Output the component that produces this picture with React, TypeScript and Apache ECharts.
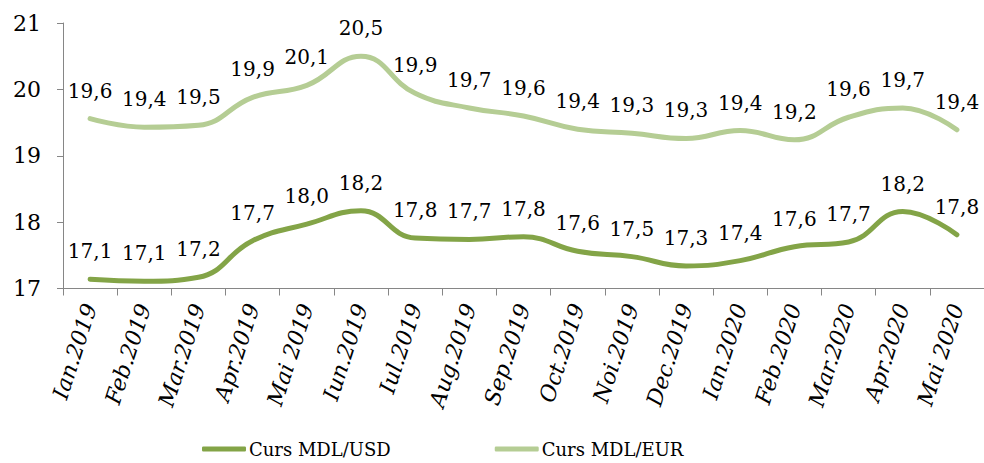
import React, { useEffect, useRef } from "react";
import * as echarts from "echarts";

const categories = [
  "Ian.2019", "Feb.2019", "Mar.2019", "Apr.2019", "Mai 2019", "Iun.2019", "Iul.2019",
  "Aug.2019", "Sep.2019", "Oct.2019", "Noi.2019", "Dec.2019", "Ian.2020", "Feb.2020",
  "Mar.2020", "Apr.2020", "Mai 2020",
];
const usdValues = [
  17.14, 17.11, 17.17, 17.72, 17.97, 18.17, 17.76, 17.74, 17.78, 17.56, 17.48, 17.34,
  17.42, 17.63, 17.7, 18.16, 17.81,
];
const eurValues = [
  19.56, 19.43, 19.46, 19.88, 20.06, 20.5, 19.94, 19.72, 19.6, 19.4, 19.34, 19.26,
  19.38, 19.24, 19.58, 19.72, 19.39,
];
const seriesNames = ["Curs MDL/USD", "Curs MDL/EUR"];

const SERIF = "'DejaVu Serif', serif";

export default function App() {
  const ref = useRef<HTMLDivElement>(null);
  useEffect(() => {
    if (!ref.current) return;
    const chart = echarts.init(ref.current, undefined, { renderer: "svg" });
    const fmt = (p: any) => Number(p.value).toFixed(1).replace(".", ",");
    const mkSeries = (name: string, data: number[], color: string) => ({
      name,
      type: "line",
      data,
      smooth: 0.45,
      symbol: "circle",
      symbolSize: 0,
      showSymbol: true,
      lineStyle: { color, width: 5, cap: "round" },
      itemStyle: { color },
      label: {
        show: true,
        position: "top",
        distance: 18,
        formatter: fmt,
        fontFamily: SERIF,
        fontSize: 20,
        color: "#000",
      },
    });
    chart.setOption({
      animation: false,
      backgroundColor: "#fff",
      grid: { left: 63, top: 23, width: 931, height: 265.5 },
      legend: {
        left: 197,
        top: 435,
        itemWidth: 44,
        itemHeight: 5,
        itemGap: 104,
        icon: "roundRect",
        textStyle: { fontFamily: SERIF, fontSize: 18, color: "#000", padding: [0, 0, 0, -2] },
        data: seriesNames,
      },
      xAxis: {
        type: "category",
        data: categories,
        boundaryGap: true,
        axisLine: { lineStyle: { color: "#868686", width: 1 } },
        axisTick: { show: true, length: 7, lineStyle: { color: "#868686" } },
        axisLabel: {
          rotate: 72,
          margin: 16,
          interval: 0,
          fontFamily: SERIF,
          fontStyle: "italic",
          fontSize: 22,
          color: "#000",
        },
      },
      yAxis: {
        type: "value",
        min: 17,
        max: 21,
        interval: 1,
        splitLine: { show: false },
        axisLine: { show: true, lineStyle: { color: "#868686", width: 1 } },
        axisTick: { show: true, length: 6, lineStyle: { color: "#868686" } },
        axisLabel: {
          margin: 22,
          fontFamily: SERIF,
          fontSize: 22,
          color: "#000",
        },
      },
      series: [
        mkSeries(seriesNames[0], usdValues, "#83a447"),
        mkSeries(seriesNames[1], eurValues, "#b5cd94"),
      ],
    });
    return () => chart.dispose();
  }, []);
  return (
    <div
      ref={ref}
      style={{ position: "fixed", left: 0, top: 0, width: 984, height: 463, background: "#fff" }}
    />
  );
}
